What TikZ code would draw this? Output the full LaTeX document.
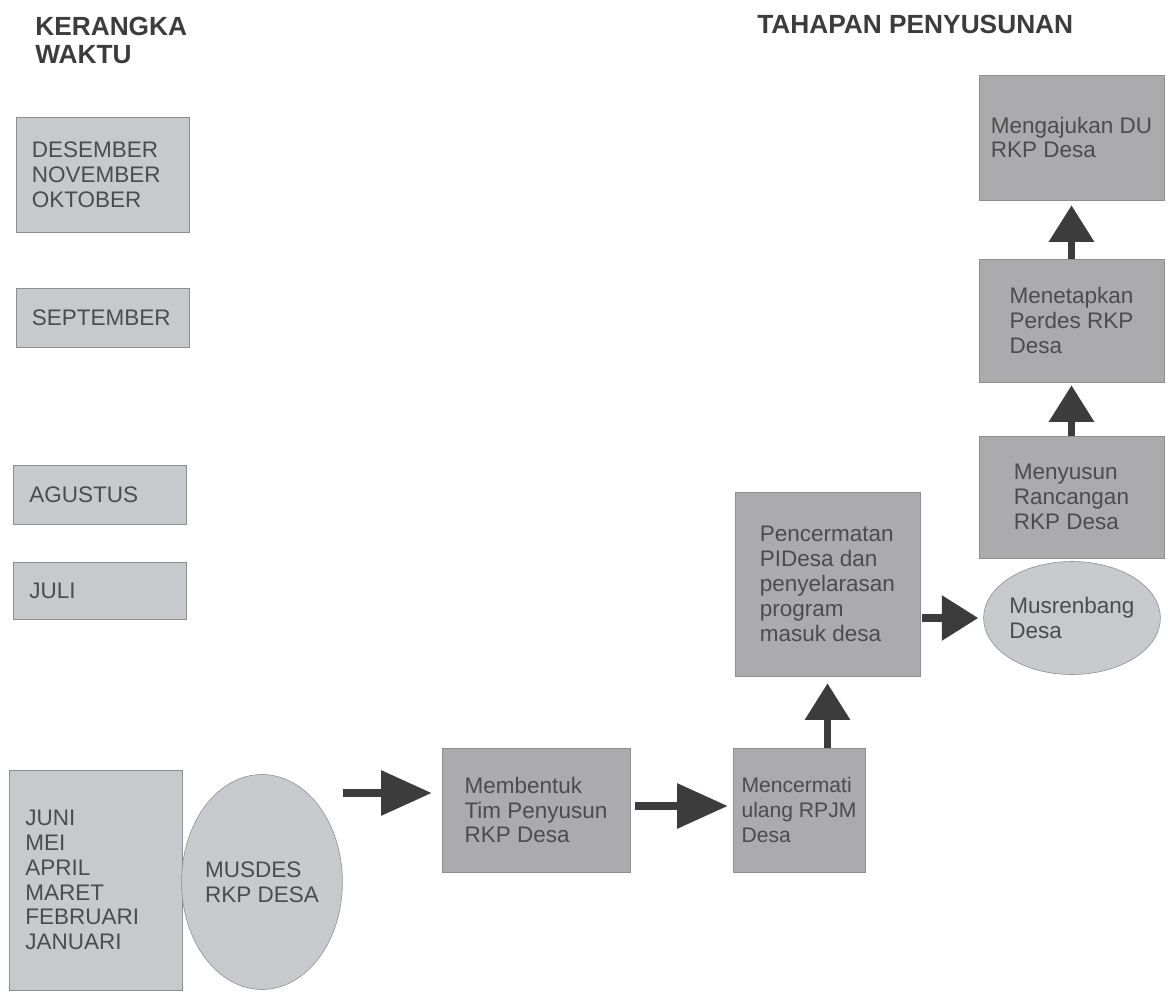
\documentclass[tikz,border=0pt]{standalone}
\usepackage{fontspec}
\setmainfont{Liberation Sans}
\usetikzlibrary{shapes.geometric,arrows.meta}
\definecolor{kotakterang}{HTML}{C8C9CD}
\definecolor{kotakgelap}{HTML}{ABABAD}
\definecolor{garis}{HTML}{8E8E90}
\definecolor{tinta}{HTML}{4C4C4C}
\definecolor{panahg}{HTML}{3C3C3C}
\begin{document}
\begin{tikzpicture}[font=\fontsize{16}{17.7}\selectfont,
	bulan/.style={draw=garis,fill=kotakterang,text=tinta,align=left,text width=3.53cm,inner xsep=.4cm,inner ysep=0pt},
	tahap/.style={draw=garis,fill=kotakgelap,text=tinta,align=left,inner sep=0pt},
	rapat/.style={ellipse,draw=garis,fill=kotakterang,text=tinta,align=left,inner sep=0pt},
	panah/.style={draw=panahg,line width=5.3pt,-{Triangle[length=26pt,width=31pt]}},
	panahpanjang/.style={panah,-{Triangle[length=36pt,width=31pt]}},
	judul/.style={anchor=north west,inner sep=0pt,align=left,text=panahg,font=\fontsize{18.7}{20}\selectfont\bfseries}]
	\useasboundingbox (0,0) rectangle (29.2,-24.8);
	\node[judul] (kw) at (.875,-.425) {KERANGKA\\WAKTU};
	\node[judul] (tp) at (18.925,-.375) {TAHAPAN PENYUSUNAN};
	% kerangka waktu
	\node[bulan,minimum height=2.875cm] (des) at (2.5625,-4.3625) {DESEMBER\\NOVEMBER\\OKTOBER};
	\node[bulan,minimum height=1.475cm] (sep) at (2.5625,-7.9375) {SEPTEMBER};
	\node[bulan,minimum height=1.475cm] (agu) at (2.5,-12.3625) {AGUSTUS};
	\node[bulan,minimum height=1.425cm] (jul) at (2.5,-14.7625) {JULI};
	\node[bulan,minimum height=5.5cm] (jun) at (2.4,-22) {JUNI\\MEI\\APRIL\\MARET\\FEBRUARI\\JANUARI};
	\node[rapat,minimum width=4cm,minimum height=5.375cm] (musdes) at (6.55,-22.05) {MUSDES\\RKP DESA};
	% tahapan
	\node[tahap,minimum width=4.7cm,minimum height=3.1cm] (membentuk) at (13.4,-20.25) {Membentuk\\Tim Penyusun\\RKP Desa};
	\node[tahap,minimum width=3.3cm,minimum height=3.1cm,font=\fontsize{15}{17.7}\selectfont] (mencermati) at (19.975,-20.25) {Mencermati\\ulang RPJM\\Desa};
	\node[tahap,minimum width=4.625cm,minimum height=4.6cm] (pencermatan) at (20.6875,-14.6) {Pencermatan\\PIDesa dan\\penyelarasan\\program\\masuk desa};
	\node[rapat,minimum width=3.875cm,minimum height=2.825cm] (musrenbang) at (26.8,-15.45) {Musrenbang\\Desa};
	\node[tahap,minimum width=4.625cm,minimum height=3.05cm] (menyusun) at (26.7875,-12.425) {Menyusun\\Rancangan\\RKP Desa};
	\node[tahap,minimum width=4.625cm,minimum height=3.075cm] (menetapkan) at (26.7875,-8.0125) {Menetapkan\\Perdes RKP\\Desa};
	\node[tahap,minimum width=4.625cm,minimum height=3.125cm] (mengajukan) at (26.7875,-3.4375) {Mengajukan DU\\RKP Desa};
	% panah
	\coordinate (m1) at ([yshift=.425cm]membentuk.west);
	\draw[panahpanjang,shorten >=.25cm] (musdes.east |- m1)--(m1);
	\draw[panahpanjang,shorten <=.125cm,shorten >=.125cm] ([yshift=.1cm]membentuk.east)--([yshift=.1cm]mencermati.west);
	\draw[panah,shorten >=.175cm] (pencermatan.south |- mencermati.north)--(pencermatan.south);
	\draw[panah,shorten <=.05cm,shorten >=.125cm] (pencermatan.east |- musrenbang.west)--(musrenbang.west);
	\foreach \a/\b/\s in {menyusun/menetapkan/.075,menetapkan/mengajukan/.125}\draw[panah,shorten >=\s cm] (\a.north)--(\b.south);
\end{tikzpicture}
\end{document}
